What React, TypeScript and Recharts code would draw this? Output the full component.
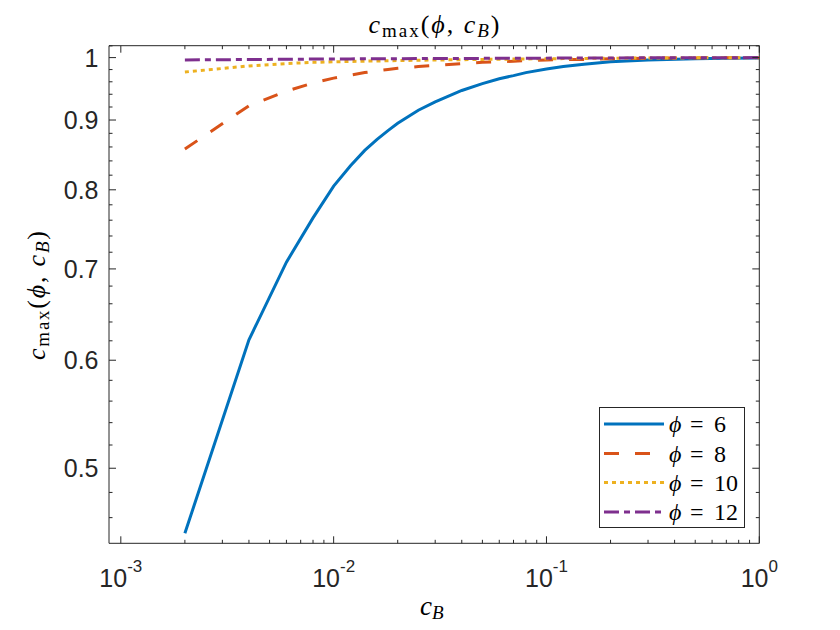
import React from 'react';
import { LineChart, Line, XAxis, YAxis, ReferenceLine, Legend } from 'recharts';

// ---- data ----
const CB = [0.002, 0.004, 0.006, 0.008, 0.01, 0.012, 0.014, 0.016, 0.018, 0.02, 0.025, 0.03, 0.04, 0.05, 0.06, 0.07, 0.08, 0.1, 0.12, 0.15, 0.2, 0.3, 0.5, 0.7, 1];
const PHI6 = [0.448, 0.621, 0.708, 0.763, 0.805, 0.833, 0.855, 0.871, 0.884, 0.895, 0.915, 0.928, 0.946, 0.957, 0.965, 0.970, 0.975, 0.981, 0.985, 0.989, 0.993, 0.996, 0.998, 0.999, 0.9995];
const PHI8 = [0.857, 0.922, 0.945, 0.958, 0.966, 0.971, 0.975, 0.978, 0.980, 0.982, 0.985, 0.987, 0.990, 0.992, 0.993, 0.994, 0.995, 0.996, 0.9965, 0.997, 0.998, 0.999, 0.9995, 0.9997, 0.9999];
const PHI10 = [0.976, 0.986, 0.990, 0.992, 0.993, 0.9935, 0.994, 0.9943, 0.9946, 0.995, 0.9955, 0.996, 0.9965, 0.997, 0.9972, 0.9975, 0.9978, 0.998, 0.9983, 0.9986, 0.999, 0.9993, 0.9996, 0.9998, 1.0];
const PHI12 = [0.996, 0.9968, 0.9972, 0.9975, 0.9977, 0.9978, 0.998, 0.998, 0.9981, 0.9982, 0.9983, 0.9984, 0.9986, 0.9987, 0.9988, 0.9989, 0.999, 0.9991, 0.9992, 0.9993, 0.9995, 0.9997, 0.9998, 0.9999, 1.0];

const X_MAJOR = [0.001, 0.01, 0.1, 1];
const X_MAJOR_LABELS = ['-3', '-2', '-1', '0'];
const X_MINOR = [0.002, 0.003, 0.004, 0.005, 0.006, 0.007, 0.008, 0.009, 0.02, 0.03, 0.04, 0.05, 0.06, 0.07, 0.08, 0.09, 0.2, 0.3, 0.4, 0.5, 0.6, 0.7, 0.8, 0.9];
const Y_MAJOR = [0.5, 0.6, 0.7, 0.8, 0.9, 1];
const Y_MAJOR_LABELS = ['0.5', '0.6', '0.7', '0.8', '0.9', '1'];
const Y_MINOR = [0.46, 0.48, 0.52, 0.54, 0.56, 0.58, 0.62, 0.64, 0.66, 0.68, 0.72, 0.74, 0.76, 0.78, 0.82, 0.84, 0.86, 0.88, 0.92, 0.94, 0.96, 0.98, 1.02];

const X_DOMAIN = [0.00088, 1];
const Y_DOMAIN = [0.4405, 1.0203];

const SERIES = [
  { key: 'p6', phi: '6', values: PHI6, color: '#0072BD', dash: undefined },
  { key: 'p8', phi: '8', values: PHI8, color: '#D95319', dash: '15 16' },
  { key: 'p10', phi: '10', values: PHI10, color: '#EDB120', dash: '4 4' },
  { key: 'p12', phi: '12', values: PHI12, color: '#7E2F8E', dash: '15 5 6 5' },
];

const data = CB.map((x, i) => {
  const row: any = { x };
  SERIES.forEach((s) => { row[s.key] = s.values[i]; });
  return row;
});

// ---- layout ----
const W = 840;
const H = 630;
const PLOT_LEFT = 109;
const PLOT_RIGHT = 759.3;
const PLOT_TOP = 45.7;
const PLOT_BOTTOM = 543.3;
const Y_AXIS_W = 60;
const X_AXIS_H = 60;
const AXIS_COLOR = '#262626';
const TICK_FONT = '"Liberation Sans", Arial, Helvetica, sans-serif';
const MATH_FONT = '"Liberation Serif", "Times New Roman", serif';
const PHI = 'ϕ';
const TICK_SIZE = 25;
const SUP_SIZE = 17;

const near = (a: number, b: number) => Math.abs(a - b) < 1e-9;

const XTick = (props: any) => {
  const { x, y, payload } = props;
  const v = payload.value;
  const mi = X_MAJOR.findIndex((m) => near(m, v));
  const major = mi >= 0;
  const len = major ? 7 : 3.5;
  return (
    <g>
      <line x1={x} y1={y} x2={x} y2={y - len} stroke={AXIS_COLOR} strokeWidth={1} />
      <line x1={x} y1={PLOT_TOP} x2={x} y2={PLOT_TOP + len} stroke={AXIS_COLOR} strokeWidth={1} />
      {major && (
        <text
          x={x}
          y={y + 43.5}
          textAnchor="middle"
          fill={AXIS_COLOR}
          style={{ fontFamily: TICK_FONT, fontSize: TICK_SIZE }}
        >
          10<tspan dy={-14.5} style={{ fontSize: SUP_SIZE }}>{X_MAJOR_LABELS[mi]}</tspan>
        </text>
      )}
    </g>
  );
};

const YTick = (props: any) => {
  const { x, y, payload } = props;
  const v = payload.value;
  const mi = Y_MAJOR.findIndex((m) => near(m, v));
  const major = mi >= 0;
  const len = major ? 7 : 3.5;
  return (
    <g>
      <line x1={x} y1={y} x2={x + len} y2={y} stroke={AXIS_COLOR} strokeWidth={1} />
      <line x1={PLOT_RIGHT} y1={y} x2={PLOT_RIGHT - len} y2={y} stroke={AXIS_COLOR} strokeWidth={1} />
      {major && (
        <text
          x={x - 10.5}
          y={y + 9}
          textAnchor="end"
          fill={AXIS_COLOR}
          style={{ fontFamily: TICK_FONT, fontSize: TICK_SIZE }}
        >
          {Y_MAJOR_LABELS[mi]}
        </text>
      )}
    </g>
  );
};

const LegendBox = () => {
  const rowY = [17, 46.5, 75.5, 105];
  return (
    <svg width={146} height={121} style={{ display: 'block' }}>
      <rect x={0.5} y={0.5} width={145} height={120} fill="#fff" stroke={AXIS_COLOR} strokeWidth={1} />
      {SERIES.map((s, i) => (
        <g key={s.key}>
          <line x1={5} x2={65} y1={rowY[i]} y2={rowY[i]} stroke={s.color} strokeWidth={3} strokeDasharray={s.dash} />
          <text y={rowY[i] + 8} fill="#000" style={{ fontFamily: MATH_FONT, fontSize: 24 }}>
            <tspan x={70} fontStyle="italic">{PHI}</tspan>
            <tspan x={91}>=</tspan>
            <tspan x={115}>{s.phi}</tspan>
          </text>
        </g>
      ))}
    </svg>
  );
};

const MathLabel = () => (
  <>
    <tspan fontStyle="italic">c</tspan>
    <tspan dy={4} style={{ fontSize: 19 }}>max</tspan>
    <tspan dy={-4}>(</tspan>
    <tspan fontStyle="italic">{PHI}</tspan>
    <tspan>, </tspan>
    <tspan fontStyle="italic">c</tspan>
    <tspan fontStyle="italic" dy={4} style={{ fontSize: 19 }}>B</tspan>
    <tspan dy={-4}>)</tspan>
  </>
);

export default function App() {
  return (
    <div style={{ position: 'absolute', left: 0, top: 0, width: W, height: H, background: '#fff' }}>
      <LineChart
        width={W}
        height={H}
        data={data}
        margin={{ top: PLOT_TOP, right: W - PLOT_RIGHT, bottom: H - PLOT_BOTTOM - X_AXIS_H, left: PLOT_LEFT - Y_AXIS_W }}
      >
        <XAxis
          dataKey="x"
          type="number"
          scale="log"
          domain={X_DOMAIN}
          allowDataOverflow
          ticks={[...X_MAJOR, ...X_MINOR]}
          interval={0}
          tick={<XTick />}
          tickLine={false}
          tickSize={0}
          tickMargin={0}
          height={X_AXIS_H}
          axisLine={{ stroke: AXIS_COLOR, strokeWidth: 1 }}
        />
        <YAxis
          type="number"
          scale="log"
          domain={Y_DOMAIN}
          allowDataOverflow
          ticks={[...Y_MAJOR, ...Y_MINOR]}
          interval={0}
          tick={<YTick />}
          tickLine={false}
          tickSize={0}
          tickMargin={0}
          width={Y_AXIS_W}
          axisLine={{ stroke: AXIS_COLOR, strokeWidth: 1 }}
        />
        <ReferenceLine y={Y_DOMAIN[1]} stroke={AXIS_COLOR} strokeWidth={1} />
        <ReferenceLine x={X_DOMAIN[1]} stroke={AXIS_COLOR} strokeWidth={1} />
        {SERIES.map((s) => (
          <Line
            key={s.key}
            dataKey={s.key}
            name={`${PHI} = ${s.phi}`}
            type="linear"
            stroke={s.color}
            strokeWidth={3}
            strokeDasharray={s.dash}
            dot={false}
            activeDot={false}
            isAnimationActive={false}
          />
        ))}
        <Legend
          layout="vertical"
          align="center"
          verticalAlign="middle"
          content={<LegendBox />}
          wrapperStyle={{ position: 'absolute', left: 599, top: 407, width: 146, height: 121, margin: 0 }}
        />
      </LineChart>
      <svg width={W} height={H} style={{ position: 'absolute', left: 0, top: 0, pointerEvents: 'none' }}>
        <text x={434} y={33} textAnchor="middle" fill="#000" textLength={131} lengthAdjust="spacing" style={{ fontFamily: MATH_FONT, fontSize: 26 }}>
          <MathLabel />
        </text>
        <text x={420} y={615} fill="#000" style={{ fontFamily: MATH_FONT, fontSize: 27 }}>
          <tspan fontStyle="italic">c</tspan>
          <tspan fontStyle="italic" dy={4} style={{ fontSize: 19 }}>B</tspan>
        </text>
        <text transform="translate(45 295.5) rotate(-90)" textAnchor="middle" fill="#000" textLength={129} lengthAdjust="spacing" style={{ fontFamily: MATH_FONT, fontSize: 26 }}>
          <MathLabel />
        </text>
      </svg>
    </div>
  );
}
